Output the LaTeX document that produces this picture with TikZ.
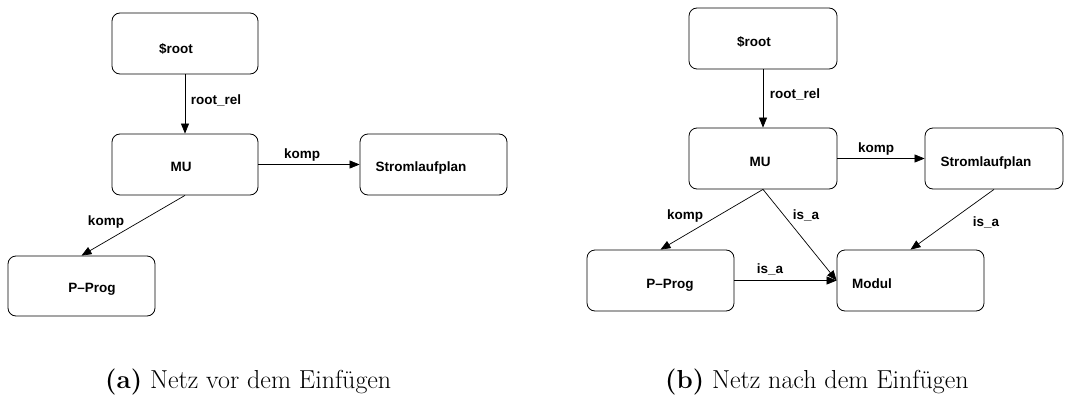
\documentclass[tikz,border=0pt]{standalone}
\usepackage{fontspec}
\newfontfamily\diafont{Liberation Sans}
\usetikzlibrary{arrows.meta}
\begin{document}
\begin{tikzpicture}[x=1pt,y=-1pt,
  box/.style={draw, line width=0.8pt, rounded corners=8pt, minimum width=146pt, minimum height=61pt, inner sep=0pt},
  txt/.style={font=\diafont\bfseries\fontsize{13.5}{15}\selectfont, anchor=base, inner sep=0pt},
  lbl/.style={txt},
  rel/.style={draw, line width=0.7pt, -{Triangle[length=10pt,width=8pt]}},
  subcap/.style={font=\fontsize{26}{30}\selectfont, anchor=base west, inner sep=0pt}]
\useasboundingbox (0,0) rectangle (1078,396);

% ---- (a) net before inserting ----
\node[box] (rootA) at (185,43.5) {};
\node[box] (muA) at (185,164.5) {};
\node[box, minimum width=147pt] (stromA) at (433.5,164.5) {};
\node[box, minimum width=147pt, minimum height=60pt] (progA) at (81.5,286) {};

\node[txt] (rootAt) at (176,53) {\$root};
\node[txt] (muAt) at (181,171) {MU};
\node[txt] (stromAt) at (421,171) {Stromlaufplan};
\node[txt] (progAt) at (92,292) {P–Prog};

\draw[rel] (rootA.south) -- (muA.north);
\draw[rel] (muA.east) -- (stromA.west);
\draw[rel] (muA.south) -- (progA.north);

\node[lbl] (relA1) at (216,104) {root\_rel};
\node[lbl] (relA2) at (302,158) {komp};
\node[lbl] (relA3) at (106,225) {komp};

% ---- (b) net after inserting ----
\node[box, minimum width=148pt] (rootB) at (763,38.5) {};
\node[box, minimum width=148pt] (muB) at (763,158.5) {};
\node[box, minimum width=138pt] (stromB) at (994,158.5) {};
\node[box, minimum width=147pt] (progB) at (660.5,280.5) {};
\node[box, minimum width=147pt] (modB) at (910.5,280.5) {};

\node[txt] (rootBt) at (754,47) {\$root};
\node[txt] (muBt) at (760,166) {MU};
\node[txt] (stromBt) at (986,166) {Stromlaufplan};
\node[txt] (progBt) at (670,288) {P–Prog};
\node[txt] (modBt) at (872,288) {Modul};

\draw[rel] (rootB.south) -- (muB.north);
\draw[rel] (muB.east) -- (stromB.west);
\draw[rel] (muB.south) -- (progB.north);
\draw[rel] (muB.south) -- (modB.west);
\draw[rel] (stromB.south) -- (modB.north);
\draw[rel] (progB.east) -- (modB.west);

\node[lbl] (relB1) at (795,98) {root\_rel};
\node[lbl] (relB2) at (876,152) {komp};
\node[lbl] (relB3) at (685,219) {komp};
\node[lbl] (relB4) at (806,219) {is\_a};
\node[lbl] (relB5) at (986,226) {is\_a};
\node[lbl] (relB6) at (770,273) {is\_a};

% ---- sub-captions ----
\node[subcap] (capA) at (105,388) {\textbf{(a)} Netz vor dem Einfügen};
\node[subcap] (capB) at (665,388) {\textbf{(b)} Netz nach dem Einfügen};
\end{tikzpicture}
\end{document}
